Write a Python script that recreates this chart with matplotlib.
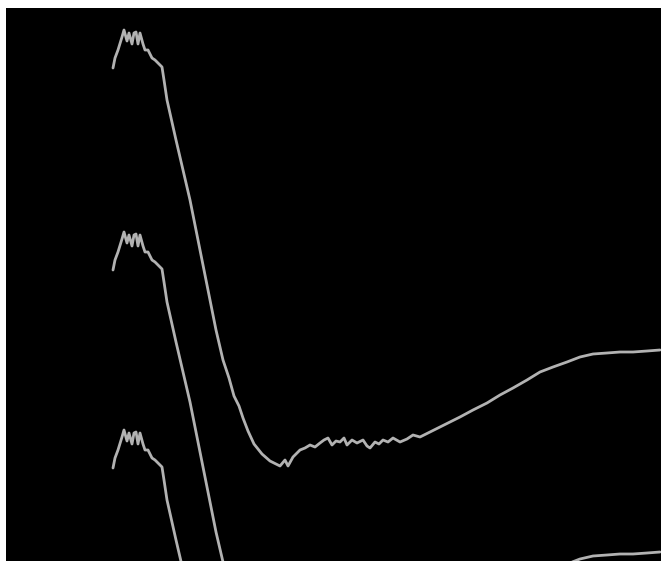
import matplotlib
matplotlib.use('Agg')
import matplotlib.pyplot as plt
import numpy as np

# Averaged response waveform (time in samples, amplitude in arbitrary units)
time = [0, 2, 5, 9, 11, 14, 16, 19, 21, 23, 25, 27, 30, 32, 35, 39, 42, 45, 49,
        51, 54, 63, 70, 77, 83, 90, 97, 103, 110,
        116, 121, 126, 130, 135, 141, 149, 157, 167, 172, 175, 180, 187, 192, 197,
        202, 207, 211, 215, 219, 223, 227, 231, 234, 239, 244, 250, 254, 257, 262,
        266, 270, 275, 280, 287, 294, 300,
        307, 317, 327, 337, 347, 360, 374, 387, 400, 414, 427, 440, 454, 467,
        480, 494, 507, 520, 534, 547]
amplitude = [0, 10, 18, 31, 38, 27, 35, 24, 35, 36, 24, 35, 24, 18, 18, 10, 8, 5, 1,
             -12, -32, -72, -102, -132, -162, -197, -232, -262, -292,
             -310, -328, -338, -350, -363, -376, -386, -393, -398, -392, -398, -389, -382, -380, -377,
             -379, -375, -372, -370, -377, -373, -374, -370, -377, -372, -375, -372, -378, -380, -374,
             -376, -372, -374, -370, -374, -371, -367,
             -369, -364, -359, -354, -349, -342, -335, -327, -320, -312, -304, -299, -294, -289,
             -286, -285, -284, -284, -283, -282]

# Vertical spacing of the stacked sweeps
sweep_offsets = [0, 202, 400]

fig = plt.figure(figsize=(6.61, 5.61), dpi=100, facecolor='white')
ax = fig.add_axes([6 / 661, 0, 655 / 661, 553 / 561])
ax.set_facecolor('black')

t = np.array(time)
a = np.array(amplitude)
for off in sweep_offsets:
    ax.plot(t, a - off, color='#b2b2b2', linewidth=2.0,
            solid_joinstyle='round', solid_capstyle='round')

ax.set_xlim(-107, 548)
ax.set_ylim(-493, 60)
ax.set_xticks([])
ax.set_yticks([])
for s in ax.spines.values():
    s.set_visible(False)

fig.savefig('out.png', dpi=100, facecolor='white')
